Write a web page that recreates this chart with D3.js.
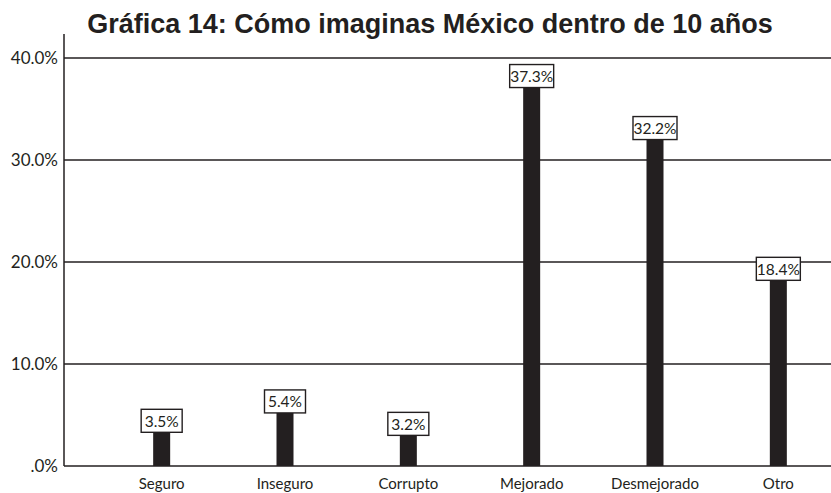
<!DOCTYPE html>
<html><head><meta charset="utf-8">
<script src="https://cdn.jsdelivr.net/npm/d3@7"></script>
<style>body{margin:0;background:#fff}svg{display:block}</style>
</head><body>
<script>
const categories = ["Seguro","Inseguro","Corrupto","Mejorado","Desmejorado","Otro"];
const values = [3.5, 5.4, 3.2, 37.3, 32.2, 18.4];
const yTicks = [0, 10, 20, 30, 40];
const yTickLabels = [".0%", "10.0%", "20.0%", "30.0%", "40.0%"];
const title = "Gráfica 14: Cómo imaginas México dentro de 10 años";

const W = 831, H = 493;
const svg = d3.select("body").append("svg").attr("width", W).attr("height", H);
const x0 = 64, x1 = 831, yTop = 34, yBottom = 466;
const y = d3.scaleLinear().domain([0, 40]).range([yBottom, 58]);
const x = d3.scaleBand().domain(categories).range([100, 840]);
const barW = 17;
const ink = "#231f20";
const font = "Lato, 'Open Sans', sans-serif";

svg.append("text").attr("x", 430).attr("y", 33).attr("text-anchor", "middle")
  .attr("font-family", "Liberation Sans, Arial, sans-serif").attr("font-weight", "bold")
  .attr("font-size", 27).attr("fill", ink).text(title);

// gridlines
svg.append("g").selectAll("line").data(yTicks.filter(t => t > 0)).join("line")
  .attr("x1", x0).attr("x2", x1).attr("y1", d => y(d)).attr("y2", d => y(d))
  .attr("stroke", ink).attr("stroke-width", 1.5);

// y axis
const yAxis = d3.axisLeft(y).tickValues(yTicks).tickFormat((d, i) => yTickLabels[i]).tickSize(0).tickPadding(6);
const ga = svg.append("g").attr("transform", `translate(${x0},0)`).call(yAxis);
ga.select(".domain").remove();
ga.selectAll("text").attr("font-family", font).attr("font-size", 17).attr("fill", ink);
svg.append("line").attr("x1", x0).attr("x2", x0).attr("y1", yTop).attr("y2", yBottom).attr("stroke", ink).attr("stroke-width", 1.5);
svg.append("line").attr("x1", x0).attr("x2", x1).attr("y1", yBottom).attr("y2", yBottom).attr("stroke", ink).attr("stroke-width", 1.5);

// x axis labels
const xAxis = d3.axisBottom(x).tickSize(0).tickPadding(12);
const gx = svg.append("g").attr("transform", `translate(0,${yBottom})`).call(xAxis);
gx.select(".domain").remove();
gx.selectAll("text").attr("font-family", font).attr("font-size", 15).attr("fill", ink);

// bars
svg.append("g").selectAll("rect").data(values).join("rect")
  .attr("x", (d, i) => x(categories[i]) + x.bandwidth() / 2 - barW / 2)
  .attr("width", barW)
  .attr("y", d => y(d)).attr("height", d => yBottom - y(d))
  .attr("fill", ink);

// labels
const lg = svg.append("g").selectAll("g").data(values).join("g")
  .attr("transform", (d, i) => `translate(${x(categories[i]) + x.bandwidth() / 2},${y(d)})`);
lg.append("rect").attr("x", d => d >= 10 ? -22 : -20.5).attr("width", d => d >= 10 ? 44 : 41)
  .attr("y", -21).attr("height", 23).attr("fill", "#fff").attr("stroke", ink).attr("stroke-width", 1.4);
lg.append("text").attr("text-anchor", "middle").attr("y", -3.5)
  .attr("font-family", font).attr("font-size", 15.5).attr("fill", ink)
  .text(d => d.toFixed(1) + "%");
</script>
</body></html>
